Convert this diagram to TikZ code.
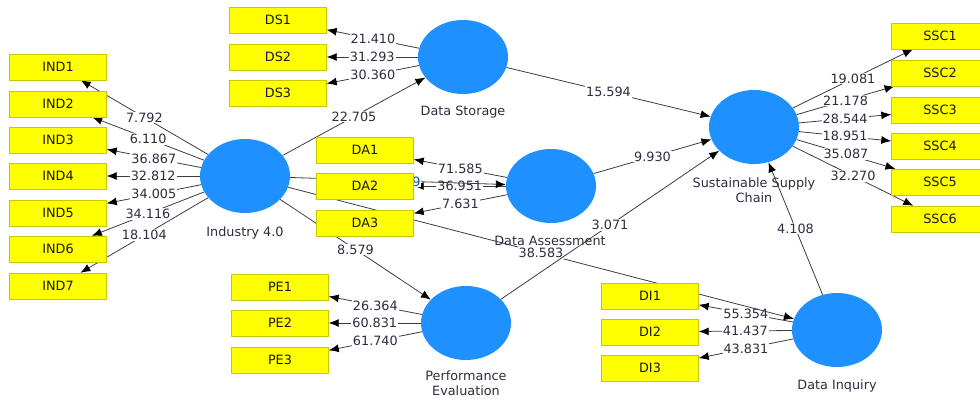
\documentclass[tikz,border=0pt]{standalone}
\usepackage{fontspec}
\setmainfont{DejaVu Sans}
\usetikzlibrary{shapes.geometric,arrows.meta,backgrounds}
\definecolor{plsblue}{RGB}{30,144,255}
\definecolor{plsyellow}{RGB}{255,255,0}
\definecolor{plsedge}{RGB}{200,200,0}
\definecolor{plsline}{RGB}{60,60,60}
\definecolor{plstext}{RGB}{45,45,65}
\newcommand{\plsfont}{\fontsize{12.8}{14.5}\selectfont}
\tikzset{
  indbox/.style={draw=plsedge,fill=plsyellow,minimum width=97pt,minimum height=26pt,inner sep=0pt,font=\plsfont,text=black!90},
  latent/.style={ellipse,fill=plsblue,minimum width=90pt,minimum height=74pt,inner sep=0pt},
  latname/.style={text=plstext,align=center,font=\plsfont,inner sep=0pt},
  pathline/.style={draw=plsline,line width=0.8pt,-{Latex[length=10pt,width=8pt,color=black]}},
  coef/.style={fill=white,inner sep=1pt,text=plstext,font=\plsfont},
}
\begin{document}
\begin{tikzpicture}[x=1pt,y=-1pt]
\useasboundingbox (0,0) rectangle (980,399);
%% latent variables
\node[latent] (ind) at (245,176) {};
\node[latent] (ds) at (463,57) {};
\node[latent] (da) at (551,186) {};
\node[latent] (pe) at (466,323) {};
\node[latent] (di) at (837,330) {};
\node[latent] (ssc) at (754,127) {};
\node[latname] (indname) at (245,233) {Industry 4.0};
\node[latname] (dsname) at (463,112) {Data Storage};
\node[latname] (daname) at (550,241) {Data Assessment};
\node[latname] (pename) at (466,383) {Performance\\Evaluation};
\node[latname] (diname) at (837,386) {Data Inquiry};
\node[latname] (sscname) at (754,190) {Sustainable Supply\\Chain};
%% indicators
\foreach \i/\y in {1/67,2/104,3/140,4/176,5/213,6/249,7/286}{
  \node[indbox] (IND\i) at (58,\y) {IND\i};
}
\foreach \i/\y in {1/20,2/57,3/93}{
  \node[indbox] (DS\i) at (278,\y) {DS\i};
}
\foreach \i/\y in {1/150,2/186,3/223}{
  \node[indbox] (DA\i) at (365,\y) {DA\i};
}
\foreach \i/\y in {1/287,2/323,3/360}{
  \node[indbox] (PE\i) at (280,\y) {PE\i};
}
\foreach \i/\y in {1/296,2/332,3/368}{
  \node[indbox] (DI\i) at (650,\y) {DI\i};
}
\foreach \i/\y in {1/36,2/73,3/110,4/146,5/182,6/219}{
  \node[indbox] (SSC\i) at (940,\y) {SSC\i};
}
\begin{scope}[on background layer]
%% outer loadings
\foreach \i/\v in {1/7.792,2/6.110,3/36.867,4/32.812,5/34.005,6/34.116,7/18.104}{
  \draw[pathline] (ind) -- node[coef]{\v} (IND\i);
}
\foreach \i/\v in {1/21.410,2/31.293,3/30.360}{
  \draw[pathline] (ds) -- node[coef]{\v} (DS\i);
}
\foreach \i/\v in {1/71.585,2/36.951,3/7.631}{
  \draw[pathline] (da) -- node[coef]{\v} (DA\i);
}
\foreach \i/\v in {1/26.364,2/60.831,3/61.740}{
  \draw[pathline] (pe) -- node[coef]{\v} (PE\i);
}
\foreach \i/\v in {1/55.354,2/41.437,3/43.831}{
  \draw[pathline] (di) -- node[coef]{\v} (DI\i);
}
\foreach \i/\v in {1/19.081,2/21.178,3/28.544,4/18.951,5/35.087,6/32.270}{
  \draw[pathline] (ssc) -- node[coef]{\v} (SSC\i);
}
% inner model
\draw[pathline] (ind) -- node[coef]{22.705} (ds);
\draw[pathline] (ind) -- node[coef,pos=0.585,text=plsblue!60!black]{9} (da);
\draw[pathline] (ind) -- node[coef]{8.579} (pe);
\draw[pathline] (ind) -- node[coef]{38.583} (di);
\draw[pathline] (ds) -- node[coef]{15.594} (ssc);
\draw[pathline] (da) -- node[coef]{9.930} (ssc);
\draw[pathline] (pe) -- node[coef]{3.071} (ssc);
\draw[pathline] (di) -- node[coef]{4.108} (ssc);
\end{scope}
\end{tikzpicture}
\end{document}
